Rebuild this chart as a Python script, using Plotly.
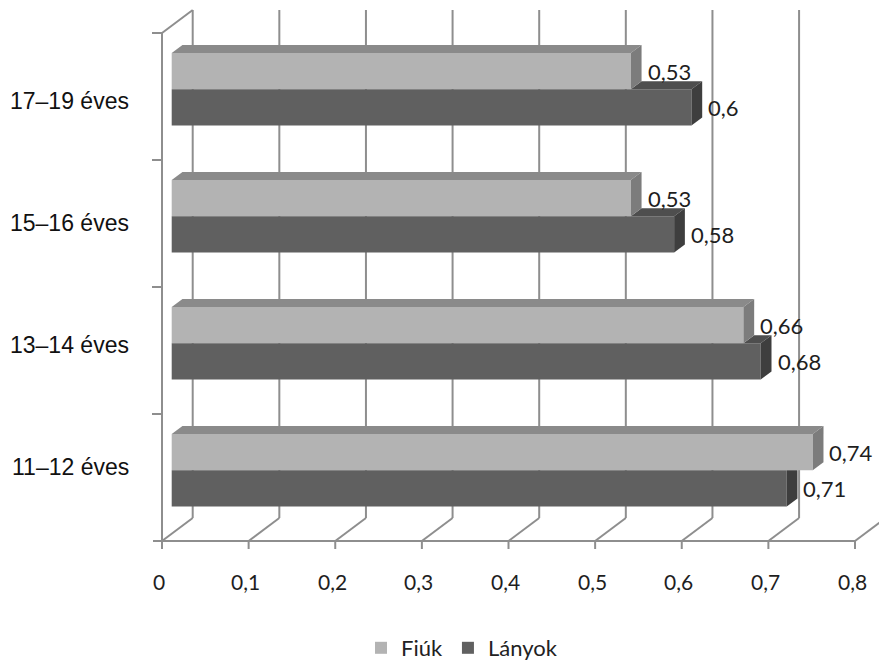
import plotly.graph_objects as go

# ---------------- data ----------------
categories = ["11–12 éves", "13–14 éves", "15–16 éves", "17–19 éves"]
series_names = ["Fiúk", "Lányok"]
fiuk = [0.74, 0.66, 0.53, 0.53]
lanyok = [0.71, 0.68, 0.58, 0.60]
value_labels_fiuk = ["0,74", "0,66", "0,53", "0,53"]
value_labels_lanyok = ["0,71", "0,68", "0,58", "0,6"]
x_ticks = [0, 0.1, 0.2, 0.3, 0.4, 0.5, 0.6, 0.7, 0.8]
x_tick_labels = ["0", "0,1", "0,2", "0,3", "0,4", "0,5", "0,6", "0,7", "0,8"]

# ---------------- style / geometry ----------------
W, H = 879, 669
PX_X = 866.25                    # pixels per value unit
PX_Y = 127.0                     # pixels per category band
ORIGIN_PX = (162, 541)           # front-floor origin (pixels)
DX = 30.7 / PX_X                 # full depth offset (x, value units)
DY = 23.0 / PX_Y                 # full depth offset (y, band units)
D0 = 0.316                       # depth of bar front faces
DD = 0.35                        # bar depth
HALF = 0.285                     # height of one bar (band units)
GRID = "#8e8e8e"
COLORS = {
    "Fiúk": dict(front="#b3b3b3", top="#8a8a8a", side="#7c7c7c"),
    "Lányok": dict(front="#606060", top="#4e4e4e", side="#3e3e3e"),
}
LABEL_FONT = "Lato, 'Open Sans', sans-serif"
CAT_FONT = "'Liberation Sans', Arial, sans-serif"

x_range = [-ORIGIN_PX[0] / PX_X, (W - ORIGIN_PX[0]) / PX_X]
y_range = [(ORIGIN_PX[1] - H) / PX_Y, ORIGIN_PX[1] / PX_Y]
n_cat = len(categories)
base = D0 * DX
ux = 1.0 / PX_X  # one pixel in x data units
uy = 1.0 / PX_Y  # one pixel in y data units

fig = go.Figure()

# ---------- walls, floor, axes (shapes, below traces) ----------
shapes = []
def line(x0, y0, x1, y1):
    shapes.append(dict(type="line", xref="x", yref="y", x0=x0, y0=y0, x1=x1, y1=y1,
                       line=dict(color=GRID, width=2), layer="below"))

for t in x_ticks:
    line(t + DX, DY, t + DX, n_cat + DY)   # back wall vertical gridline
    line(t, 0, t + DX, DY)                 # floor slanted line
    line(t, 0, t, -8 * uy)                 # tick mark
line(-9 * ux, 0, x_ticks[-1], 0)           # front floor line
line(0, 0, 0, n_cat)                       # left front axis
for i in range(1, n_cat + 1):
    line(-10 * ux, i, 0, i)
line(0, n_cat, DX, n_cat + DY)             # top-left slant

# ---------- bars (front faces) ----------
def face_y(c, s):
    center = c + 0.5 + (HALF / 2 if s == 0 else -HALF / 2)
    return center + D0 * DY

cat_idx = list(range(n_cat))
for s, (name, vals) in enumerate(zip(series_names, [fiuk, lanyok])):
    fig.add_trace(go.Bar(
        orientation="h",
        y=[face_y(c, s) for c in cat_idx],
        x=vals,
        base=base,
        width=HALF,
        name=name,
        marker=dict(color=COLORS[name]["front"], line=dict(width=0)),
        hoverinfo="skip",
        showlegend=True,
    ))

# ---------- 3D top & side faces ----------
def poly(xs, ys, color):
    fig.add_trace(go.Scatter(
        x=xs + [xs[0]], y=ys + [ys[0]], mode="lines", fill="toself",
        fillcolor=color, line=dict(width=0, color=color),
        hoverinfo="skip", showlegend=False,
    ))

ddx, ddy = DD * DX, DD * DY
for c in cat_idx:
    vf, vl = fiuk[c], lanyok[c]
    yc = face_y(c, 1)
    yt, yb = yc + HALF / 2, yc - HALF / 2
    xe = base + vl
    xf = base + vf
    if vl > vf:
        poly([xf, xf + ddx, xe + ddx, xe], [yt, yt + ddy, yt + ddy, yt], COLORS["Lányok"]["top"])
        poly([xe, xe + ddx, xe + ddx, xe], [yb, yb + ddy, yt + ddy, yt], COLORS["Lányok"]["side"])
    else:
        poly([xe, xe + ddx, xe + ddx, xe], [yb, yb + ddy, yt, yt], COLORS["Lányok"]["side"])
    yc = face_y(c, 0)
    yt, yb = yc + HALF / 2, yc - HALF / 2
    poly([base, base + ddx, xf + ddx, xf], [yt, yt + ddy, yt + ddy, yt], COLORS["Fiúk"]["top"])
    poly([xf, xf + ddx, xf + ddx, xf], [yb, yb + ddy, yt + ddy, yt], COLORS["Fiúk"]["side"])

# ---------- annotations ----------
ann = []
for c in cat_idx:
    for s, (vals, labs) in enumerate([(fiuk, value_labels_fiuk), (lanyok, value_labels_lanyok)]):
        ann.append(dict(x=base + vals[c] + ddx + 4 * ux, y=face_y(c, s), xref="x", yref="y",
                        text=labs[c], showarrow=False, xanchor="left", yanchor="middle",
                        font=dict(family=LABEL_FONT, size=22, color="#1e1e1e")))
    yc = n_cat / 2 + (c + 0.5 - n_cat / 2) * 0.96
    ann.append(dict(x=-31 * ux, y=yc + 3 * uy, xref="x", yref="y", text=categories[c],
                    showarrow=False, xanchor="right", yanchor="middle",
                    font=dict(family=CAT_FONT, size=23, color="#111111")))
for t, lab in zip(x_ticks, x_tick_labels):
    ann.append(dict(x=t, y=-40 * uy, xref="x", yref="y", text=lab, showarrow=False,
                    xanchor="center", yanchor="middle", xshift=-3,
                    font=dict(family=LABEL_FONT, size=21, color="#1e1e1e")))

fig.update_layout(
    width=W, height=H,
    margin=dict(l=0, r=0, t=0, b=0),
    paper_bgcolor="white", plot_bgcolor="white",
    barmode="overlay",
    xaxis=dict(range=x_range, visible=False, fixedrange=True),
    yaxis=dict(range=y_range, visible=False, fixedrange=True),
    shapes=shapes,
    annotations=ann,
    showlegend=True,
    legend=dict(orientation="h", x=462 / W, xanchor="center",
                y=0, yanchor="bottom",
                font=dict(family=LABEL_FONT, size=22, color="#222222"),
                bgcolor="rgba(0,0,0,0)"),
)

fig.write_html("out.html", config={"displayModeBar": False},
               post_script="document.body.style.margin='0px';")
